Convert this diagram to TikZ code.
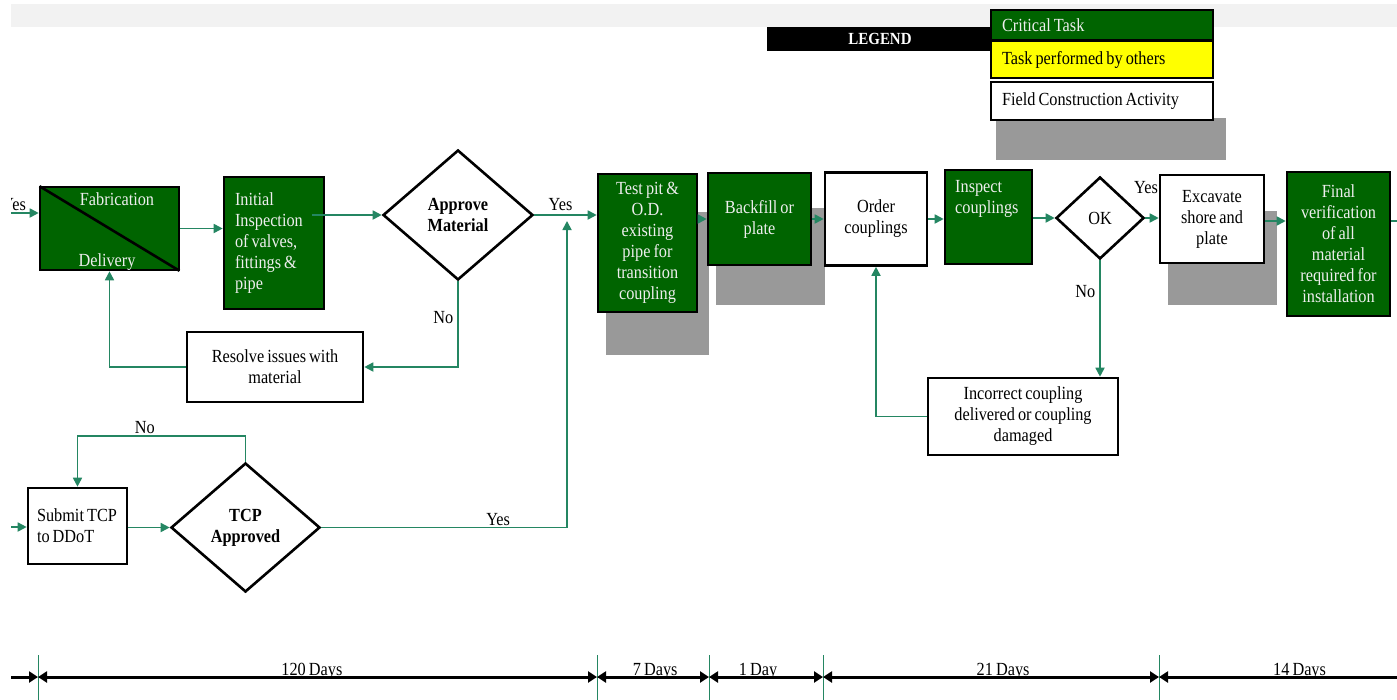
\documentclass[tikz,border=0pt]{standalone}
\usepackage{fontspec}
\setmainfont{Liberation Serif}[FakeStretch=0.88, WordSpace=0.75]
\usetikzlibrary{arrows.meta,shapes.geometric}
\definecolor{critgreen}{RGB}{0,100,0}
\definecolor{flowgreen}{RGB}{36,134,98}
\definecolor{shadowgrey}{RGB}{153,153,153}
\definecolor{bandgrey}{RGB}{242,242,242}
\definecolor{paletext}{RGB}{238,238,238}
\definecolor{othersyellow}{RGB}{255,255,0}
\newcommand\flowfont{\fontsize{18.5}{21}\selectfont}
\tikzset{
  taskbox/.style={draw=black, line width=2.6pt, inner sep=0pt, align=center, font=\flowfont},
  critical/.style={taskbox, fill=critgreen, text=paletext},
  field/.style={taskbox, fill=white, text=black},
  others/.style={taskbox, fill=othersyellow, text=black},
  boxsize/.style 2 args={minimum width=#1pt, minimum height=#2pt},
  leftset/.style 2 args={text width=#1pt, inner xsep=#2pt, align=flush left},
  decision/.style={diamond, draw=black, line width=2.6pt, fill=white, inner sep=0pt,
    align=center, font=\flowfont\bfseries},
  flow/.style={draw=flowgreen, line width=1.7pt, -{Triangle[length=9pt,width=9pt]}},
  flowline/.style={draw=flowgreen, line width=1.7pt},
  shadowbox/.style={fill=shadowgrey},
  lbl/.style={font=\flowfont, inner sep=0pt},
  span/.style={line width=3pt, {Triangle[length=9pt,width=11pt]}-{Triangle[length=9pt,width=11pt]}},
  spanend/.style={line width=3pt, -{Triangle[length=9pt,width=11pt]}},
  spanstart/.style={line width=3pt, {Triangle[length=9pt,width=11pt]}-},
  tick/.style={draw=flowgreen, line width=1pt},
  daylbl/.style={font=\flowfont, inner sep=0pt, anchor=base, yshift=2pt},
}
\begin{document}
\begin{tikzpicture}[x=1pt,y=-1pt]
\useasboundingbox (0,0) rectangle (1397,699);
\fill[white] (0,0) rectangle (1397,699);
\clip (11,0) rectangle (1397,699);
\fill[bandgrey] (11,4) rectangle (1397,27);

% ---------- legend ----------
\node[fill=black, text=white, inner sep=0pt, minimum width=226pt, minimum height=24pt,
  font=\fontsize{17}{18}\selectfont\bfseries] (legend) at (880,39) {LEGEND};
\fill[shadowbox] (996,118) rectangle (1226,160);
\node[critical, boxsize={222}{30}, leftset={200}{11}] (lgcrit) at (1102,25) {\raisebox{-3pt}{Critical Task}};
\node[others, boxsize={222}{37}, leftset={200}{11}] (lgothers) at (1102,59.5) {Task performed by others};
\node[field, boxsize={222}{38}, leftset={200}{11}] (lgfield) at (1102,101) {Field Construction Activity};

% ---------- drop shadows ----------
\fill[shadowbox] (606,212) rectangle (709,355);
\fill[shadowbox] (716,208) rectangle (825,305);
\fill[shadowbox] (1168,211) rectangle (1277,305);

% ---------- material branch ----------
\node[critical, boxsize={139}{83}] (fab) at (109.5,228.5) {};
\draw[black, line width=2.6pt, shorten <=1pt, shorten >=1pt] (fab.north west) -- (fab.south east);
\node[lbl, text=paletext] (fabtxt) at (117,199) {Fabrication};
\node[lbl, text=paletext] (deltxt) at (107,262) {Delivery};

\node[critical, boxsize={100}{132}, leftset={78}{11}] (initial) at (274,243)
  {Initial\\Inspection\\of valves,\\fittings \&\\pipe};
\node[decision, minimum width=150pt, minimum height=130pt] (approve) at (458,215) {Approve\\Material};
\node[field, boxsize={176}{70}] (resolve) at (275,367) {Resolve issues with\\material};

% ---------- main line ----------
\node[critical, boxsize={99}{138}] (testpit) at (647.5,243)
  {Test pit \&\\O.D.\\existing\\pipe for\\transition\\coupling};
\node[critical, boxsize={103}{92}] (backfill) at (759.5,219) {Backfill or\\plate};
\node[field, boxsize={102}{93}] (order) at (876,219) {Order\\couplings};
\node[critical, boxsize={87}{94}] (inspect) at (988.5,217) {};
\node[lbl, text=paletext, align=flush left, anchor=north west] (inspecttxt) at (955,180) {Inspect\\couplings};
\node[decision, minimum width=88pt, minimum height=82pt, font=\flowfont] (ok) at (1100,218) {OK};
\node[field, boxsize={104}{88}] (excavate) at (1212,219) {Excavate\\shore and\\plate};
\node[critical, boxsize={103}{144}] (final) at (1338.5,244)
  {Final\\verification\\of all\\material\\required for\\installation};
\node[field, boxsize={190}{77}] (incorrect) at (1023,416.5)
  {Incorrect coupling\\delivered or coupling\\damaged};

% ---------- traffic control plan branch ----------
\node[field, boxsize={99}{76}, leftset={81}{9}] (submit) at (77.5,526)
  {Submit TCP\\to DDoT};
\node[decision, minimum width=149pt, minimum height=129pt] (tcp) at (245.5,527.5) {TCP\\Approved};

% ---------- free connector ends ----------
\coordinate (inmat) at (5,213);
\coordinate (intcp) at (5,527);
\coordinate (yesjoin) at (567,221);
\coordinate (outfinal) at (1405,221);

% ---------- connectors ----------
\draw[flow] (inmat) -- (fab.west |- inmat);
\node[lbl] (yesin) at (14,205) {Yes};
\draw[flow] (fab.east) -- (initial.west |- fab.east);
\draw[flow] (initial.east |- approve.west) ++(-13,0) -- (approve.west);
\draw[flow] (approve.east) -- node[lbl, above=3pt, pos=0.42] {Yes} (approve.east -| testpit.west);
\draw[flow] (approve.south) |- node[lbl, left=4pt, pos=0.21] {No} (resolve.east);
\draw[flow] (resolve.west) -| (fab.south);
\draw[flow] (testpit.east |- backfill.west) -- (backfill.west);
\draw[flow] (backfill.east) -- (order.west |- backfill.east);
\draw[flow] (order.east) -- (inspect.west |- order.east);
\draw[flow] (inspect.east |- ok.west) -- (ok.west);
\draw[flow] (ok.east) -- (excavate.west |- ok.east);
\node[lbl] (yesok) at (1146,188) {Yes};
\draw[flow] (excavate.east |- outfinal) -- (final.west |- outfinal);
\draw[flowline] (final.east |- outfinal) -- (outfinal);
\draw[flow] (ok.south) -- node[lbl, left=4pt, pos=0.27] {No} (ok.south |- incorrect.north);
\draw[flow] (incorrect.west) -| (order.south);

\draw[flow] (intcp) -- (submit.west |- intcp);
\draw[flow] (submit.east |- tcp.west) -- (tcp.west);
\draw[flow] (tcp.north) -- ++(0,-26) -| node[lbl, above=1pt, pos=0.3] {No} (submit.north);
\draw[flow] (tcp.east) -| node[lbl, above=1pt, pos=0.36] {Yes} (yesjoin);

% ---------- schedule ----------
\coordinate (t0) at (5,677);
\coordinate (t1) at (38,677);
\coordinate (t2) at (597,677);
\coordinate (t3) at (709,677);
\coordinate (t4) at (823,677);
\coordinate (t5) at (1159,677);
\coordinate (t6) at (1410,677);
\foreach \t in {t1,t2,t3,t4,t5}
  \draw[tick] ([yshift=22pt]\t) -- ([yshift=-24pt]\t);
\draw[spanend] (t0) -- (t1);
\draw[span] (t1) -- node[daylbl, pos=0.49] {120 Days} (t2);
\draw[span] (t2) -- node[daylbl, pos=0.52] {7 Days} (t3);
\draw[span] (t3) -- node[daylbl, pos=0.43] {1 Day} (t4);
\draw[span] (t4) -- node[daylbl, pos=0.536] {21 Days} (t5);
\draw[spanstart] (t5) -- node[daylbl, pos=0.56] {14 Days} (t6);
\end{tikzpicture}
\end{document}
